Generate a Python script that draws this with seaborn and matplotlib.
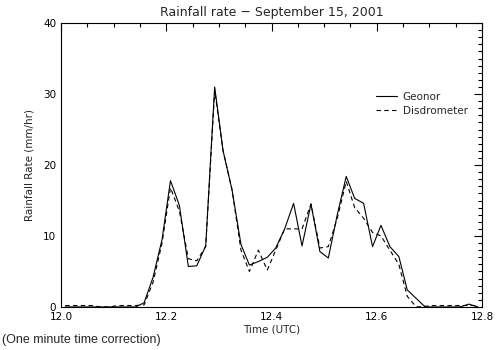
import pandas as pd
import seaborn as sns
from matplotlib import pyplot as plt
from matplotlib.ticker import MultipleLocator

# one-minute samples, time in decimal hours UTC
time_utc = [
    12.008, 12.025, 12.042, 12.058, 12.075, 12.092, 12.108, 12.125,
    12.142, 12.158, 12.175, 12.192, 12.208, 12.225, 12.242, 12.258,
    12.275, 12.292, 12.308, 12.325, 12.342, 12.358, 12.375, 12.392,
    12.408, 12.425, 12.442, 12.458, 12.475, 12.492, 12.508, 12.525,
    12.542, 12.558, 12.575, 12.592, 12.608, 12.625, 12.642, 12.658,
    12.675, 12.692, 12.708, 12.725, 12.742, 12.758, 12.775, 12.792,
]
geonor = [
    0, 0, 0, 0, 0, 0, 0, 0,
    0, 0.6, 4.2, 9.5, 17.8, 14.3, 5.7, 5.8,
    8.6, 31.0, 22.0, 16.5, 8.8, 5.9, 6.4, 7.0,
    8.3, 11.0, 14.6, 8.6, 14.5, 7.8, 6.9, 13.0,
    18.4, 15.3, 14.6, 8.5, 11.5, 8.5, 7.1, 2.4,
    1.2, 0, 0, 0, 0, 0, 0.4, 0,
]
disdrometer = [
    0.2, 0.2, 0.2, 0.2, 0, 0, 0.2, 0.2,
    0.2, 0.3, 3.5, 9.0, 16.8, 13.5, 6.8, 6.5,
    8.5, 30.5, 22.0, 16.5, 8.0, 5.0, 8.0, 5.2,
    8.0, 11.0, 11.0, 11.0, 14.5, 8.3, 8.5, 12.5,
    17.7, 14.0, 12.5, 10.5, 10.0, 8.0, 6.0, 1.5,
    0, 0.1, 0.2, 0.2, 0.2, 0.2, 0.2, 0.2,
]

df = pd.concat(
    [
        pd.DataFrame({"time": time_utc, "rate": geonor, "series": "Geonor"}),
        pd.DataFrame({"time": time_utc, "rate": disdrometer, "series": "Disdrometer"}),
    ]
)

sns.set_style("white")
plt.rcParams["font.family"] = ["DejaVu Sans"]

fig = plt.figure(figsize=(5, 3.5), dpi=100)
ax = fig.add_axes([0.122, 0.123, 0.842, 0.811])

sns.lineplot(
    data=df,
    x="time",
    y="rate",
    style="series",
    dashes={"Geonor": "", "Disdrometer": (4, 3)},
    color="black",
    linewidth=0.8,
    ax=ax,
)

ax.set_xlim(12.0, 12.8)
ax.set_ylim(0, 40)
ax.xaxis.set_major_locator(MultipleLocator(0.2))
ax.xaxis.set_minor_locator(MultipleLocator(0.05))
ax.yaxis.set_major_locator(MultipleLocator(10))
ax.yaxis.set_minor_locator(MultipleLocator(1))
ax.xaxis.set_major_formatter(plt.FuncFormatter(lambda v, p: f"{v:.1f}"))
ax.tick_params(which="both", direction="in", top=True, right=True,
               colors="black", labelsize=7.5, width=0.8)
ax.tick_params(which="major", length=6)
ax.tick_params(which="minor", length=3)
for s in ax.spines.values():
    s.set_color("black")
    s.set_linewidth(0.8)

ax.set_title("Rainfall rate \u2212 September 15, 2001", fontsize=9, pad=5)
ax.set_xlabel("Time (UTC)", fontsize=7.5, labelpad=2)
ax.set_ylabel("Rainfall Rate (mm/hr)", fontsize=7.5, labelpad=6)

ax.legend(
    title=None,
    loc="upper left",
    bbox_to_anchor=(0.725, 0.79),
    frameon=False,
    fontsize=7.5,
    handlelength=2.1,
    handletextpad=0.5,
    labelspacing=0.35,
)

fig.text(0.004, 0.02, "(One minute time correction)", fontsize=9,
         family=["Liberation Sans", "DejaVu Sans"])

fig.savefig("out.png", dpi=100)
